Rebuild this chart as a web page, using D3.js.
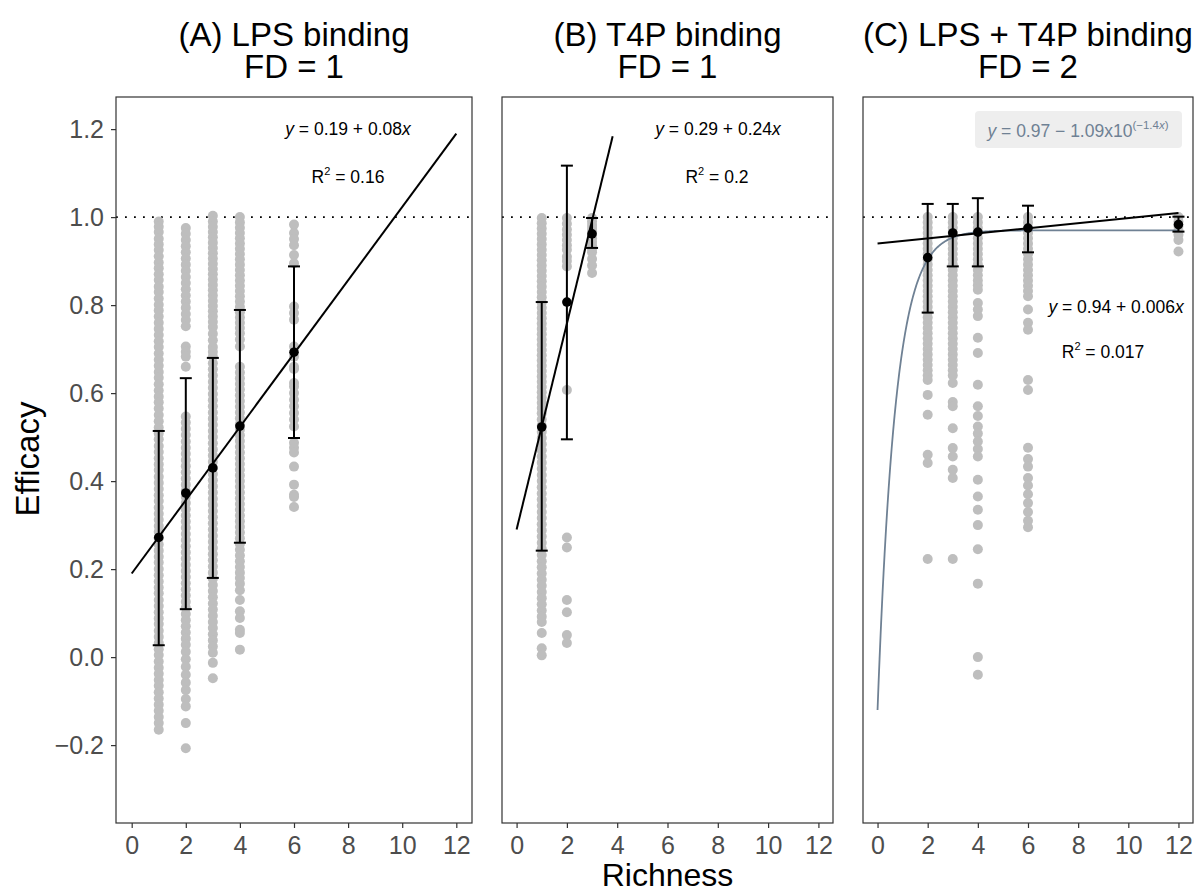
<!DOCTYPE html>
<html>
<head>
<meta charset="utf-8">
<script src="https://cdn.jsdelivr.net/npm/d3@7"></script>
<style>
body { margin: 0; background: #fff; }
text { font-family: "Liberation Sans", Arial, Helvetica, sans-serif; }
</style>
</head>
<body>
<div id="chart"></div>
<script>
var width = 1195;
var height = 893;

// ---- data ----
var titles = ["(A) LPS binding", "(B) T4P binding", "(C) LPS + T4P binding"];
var fdLabels = ["FD = 1", "FD = 1", "FD = 2"];
var xTicks = [0, 2, 4, 6, 8, 10, 12];
var yTicks = [-0.2, 0, 0.2, 0.4, 0.6, 0.8, 1.0, 1.2];

// raw efficacy values per richness level
var lpsPoints = [
  [1, [0.99,0.978,0.966,0.951,0.938,0.925,0.911,0.897,0.884,0.87,0.857,0.842,0.83,0.815,0.801,0.788,0.774,0.76,0.746,0.732,0.718,0.705,0.69,0.676,0.662,0.648,0.635,0.62,0.606,0.592,0.579,0.565,0.55,0.536,0.522,0.508,0.495,0.48,0.466,0.452,0.438,0.425,0.41,0.396,0.382,0.368,0.355,0.34,0.326,0.312,0.298,0.285,0.27,0.256,0.242,0.228,0.215,0.2,0.186,0.172,0.158,0.145,0.13,0.116,0.102,0.088,0.075,0.06,0.046,0.032,0.018,0.005,-0.01,-0.024,-0.038,-0.052,-0.065,-0.08,-0.094,-0.108,-0.122,-0.136,-0.15,-0.165]],
  [2, [0.975,0.962,0.948,0.934,0.92,0.906,0.892,0.878,0.864,0.85,0.836,0.822,0.808,0.794,0.78,0.766,0.752,0.706,0.694,0.683,0.66,0.547,0.533,0.519,0.505,0.49,0.476,0.462,0.448,0.434,0.42,0.406,0.392,0.378,0.364,0.35,0.336,0.322,0.308,0.294,0.28,0.266,0.252,0.238,0.224,0.21,0.196,0.182,0.168,0.154,0.14,0.126,0.112,0.098,0.084,0.07,0.056,0.042,0.028,0.012,-0.005,-0.022,-0.04,-0.058,-0.075,-0.095,-0.112,-0.15,-0.207]],
  [3, [1.003,0.99,0.978,0.966,0.954,0.942,0.93,0.918,0.906,0.894,0.882,0.87,0.858,0.846,0.834,0.822,0.81,0.798,0.786,0.774,0.762,0.75,0.735,0.72,0.705,0.694,0.683,0.668,0.654,0.64,0.626,0.612,0.598,0.584,0.57,0.556,0.542,0.528,0.514,0.5,0.486,0.472,0.458,0.444,0.43,0.416,0.402,0.388,0.374,0.36,0.346,0.332,0.318,0.304,0.29,0.276,0.262,0.248,0.234,0.22,0.206,0.192,0.178,0.164,0.15,0.136,0.122,0.108,0.094,0.08,0.066,0.052,0.038,0.024,0.01,-0.013,-0.048]],
  [4, [1.0,0.988,0.976,0.964,0.952,0.94,0.928,0.916,0.904,0.892,0.88,0.868,0.856,0.844,0.832,0.82,0.808,0.796,0.784,0.772,0.76,0.748,0.736,0.722,0.706,0.66,0.647,0.634,0.621,0.608,0.595,0.582,0.569,0.556,0.543,0.53,0.517,0.504,0.491,0.478,0.465,0.452,0.439,0.426,0.413,0.4,0.387,0.374,0.361,0.348,0.335,0.322,0.309,0.296,0.283,0.27,0.257,0.244,0.231,0.218,0.205,0.192,0.18,0.167,0.152,0.13,0.104,0.089,0.062,0.055,0.017]],
  [6, [0.983,0.964,0.95,0.936,0.914,0.895,0.797,0.782,0.767,0.706,0.683,0.66,0.655,0.623,0.615,0.6,0.585,0.57,0.555,0.54,0.524,0.487,0.476,0.465,0.433,0.392,0.369,0.364,0.341]]
];
var t4pPoints = [
  [1, [0.998,0.986,0.974,0.962,0.95,0.938,0.926,0.914,0.902,0.89,0.878,0.866,0.854,0.842,0.83,0.818,0.806,0.794,0.782,0.77,0.758,0.746,0.734,0.722,0.71,0.698,0.686,0.674,0.662,0.65,0.638,0.626,0.614,0.602,0.59,0.578,0.566,0.554,0.54,0.526,0.512,0.498,0.484,0.47,0.456,0.442,0.428,0.414,0.4,0.386,0.372,0.358,0.344,0.33,0.316,0.302,0.288,0.274,0.26,0.246,0.232,0.218,0.204,0.19,0.176,0.162,0.148,0.134,0.12,0.106,0.092,0.08,0.055,0.02,0.004]],
  [2, [0.998,0.985,0.972,0.96,0.948,0.936,0.926,0.91,0.9,0.888,0.607,0.272,0.249,0.13,0.102,0.05,0.032]],
  [3, [0.998,0.99,0.982,0.975,0.968,0.96,0.952,0.944,0.936,0.928,0.92,0.905,0.89,0.873]]
];
var bothPoints = [
  [2, [1.0,0.988,0.976,0.964,0.952,0.94,0.928,0.916,0.904,0.892,0.88,0.868,0.856,0.844,0.832,0.82,0.808,0.796,0.784,0.772,0.76,0.748,0.736,0.724,0.712,0.7,0.688,0.676,0.664,0.652,0.64,0.63,0.596,0.551,0.46,0.441,0.223]],
  [3, [1.0,0.988,0.976,0.964,0.952,0.94,0.928,0.916,0.904,0.892,0.88,0.868,0.856,0.844,0.832,0.82,0.808,0.796,0.784,0.772,0.76,0.748,0.736,0.724,0.712,0.7,0.688,0.676,0.664,0.652,0.64,0.623,0.58,0.57,0.52,0.475,0.456,0.426,0.407,0.223]],
  [4, [1.0,0.988,0.976,0.964,0.952,0.94,0.928,0.916,0.904,0.892,0.88,0.868,0.856,0.845,0.835,0.805,0.79,0.775,0.726,0.691,0.619,0.57,0.548,0.524,0.508,0.49,0.473,0.456,0.403,0.365,0.335,0.3,0.245,0.167,0.0,-0.04]],
  [6, [1.0,0.988,0.976,0.964,0.952,0.94,0.928,0.916,0.904,0.892,0.88,0.868,0.856,0.844,0.832,0.82,0.79,0.76,0.744,0.63,0.607,0.476,0.45,0.433,0.407,0.39,0.37,0.35,0.33,0.31,0.295]],
  [12, [1.0,0.99,0.98,0.97,0.96,0.948,0.922]]
];

// mean, lower, upper per richness level
var lpsSummary = [[1, 0.272, 0.027, 0.514], [2, 0.373, 0.109, 0.634], [3, 0.43, 0.18, 0.68], [4, 0.525, 0.26, 0.789], [6, 0.693, 0.498, 0.888]];
var t4pSummary = [[1, 0.523, 0.242, 0.807], [2, 0.807, 0.495, 1.117], [3, 0.962, 0.93, 0.998]];
var bothSummary = [[2, 0.908, 0.783, 1.03], [3, 0.964, 0.888, 1.03], [4, 0.966, 0.888, 1.043], [6, 0.975, 0.92, 1.026], [12, 0.983, 0.967, 1.001]];

// linear fits: intercept, slope, x from, x to
var lpsLine = [0.19, 0.0833, 0, 12];
var t4pLine = [0.29, 0.234, 0, 3.82];
var bothLine = [0.94, 0.0058, 0, 12];
// saturating fit: y = a - b * exp(-c x)
var bothCurve = [0.97, 1.09, 1.4];

var lpsEq = ["0.19 + 0.08", "0.16"];
var t4pEq = ["0.29 + 0.24", "0.2"];
var bothEq = ["0.94 + 0.006", "0.017"];

// ---- layout ----
var plotTop = 97, plotBottom = 823;
var panels = [
  {left: 116, right: 472, points: lpsPoints, summary: lpsSummary, line: lpsLine, eq: lpsEq, eqX: 348, eqY: 135, r2X: 348, r2Y: 183},
  {left: 502, right: 833, points: t4pPoints, summary: t4pSummary, line: t4pLine, eq: t4pEq, eqX: 718, eqY: 135, r2X: 717, r2Y: 183},
  {left: 863, right: 1193, points: bothPoints, summary: bothSummary, line: bothLine, eq: bothEq, eqX: 1116, eqY: 313, r2X: 1103, r2Y: 358, curve: bothCurve}
];

var svg = d3.select("#chart").append("svg").attr("width", width).attr("height", height);

var y = d3.scaleLinear().domain([-0.377, 1.273]).range([plotBottom, plotTop]);
var lineGen = d3.line().x(d => d[0]).y(d => d[1]);

panels.forEach(function(p, i) {
  var x = d3.scaleLinear().domain([-0.58, 12.58]).range([p.left, p.right]);
  var g = svg.append("g").attr("class", "panel_" + i);
  var cx = (p.left + p.right) / 2;

  // titles
  g.append("text").attr("x", cx).attr("y", 46).attr("text-anchor", "middle")
    .style("font-size", "33px").attr("fill", "#000").text(titles[i]);
  g.append("text").attr("x", cx).attr("y", 78).attr("text-anchor", "middle")
    .style("font-size", "33px").attr("fill", "#000").text(fdLabels[i]);

  // reference line at 1
  g.append("line")
    .attr("x1", p.left).attr("x2", p.right)
    .attr("y1", y(1)).attr("y2", y(1))
    .attr("stroke", "#000").attr("stroke-width", 1.8)
    .attr("stroke-dasharray", "1.8,7.2");

  // raw points
  p.points.forEach(function(col) {
    g.selectAll(null).data(col[1]).enter().append("circle")
      .attr("cx", x(col[0])).attr("cy", d => y(d))
      .attr("r", 5).attr("fill", "#bebebe");
  });

  // saturating curve
  if (p.curve) {
    var c = p.curve;
    var xs = d3.range(0, 12.001, 0.02);
    g.append("path")
      .attr("d", lineGen(xs.map(v => [x(v), y(c[0] - c[1] * Math.exp(-c[2] * v))])))
      .attr("fill", "none").attr("stroke", "#6f8194").attr("stroke-width", 1.8);
  }

  // error bars
  p.summary.forEach(function(s) {
    var bx = x(s[0]);
    g.append("line").attr("x1", bx).attr("x2", bx).attr("y1", y(s[2])).attr("y2", y(s[3]))
      .attr("stroke", "#000").attr("stroke-width", 2);
    [s[2], s[3]].forEach(function(v) {
      g.append("line").attr("x1", bx - 6).attr("x2", bx + 6).attr("y1", y(v)).attr("y2", y(v))
        .attr("stroke", "#000").attr("stroke-width", 2);
    });
  });

  // linear fit
  var L = p.line;
  g.append("path")
    .attr("d", lineGen([[x(L[2]), y(L[0] + L[1] * L[2])], [x(L[3]), y(L[0] + L[1] * L[3])]]))
    .attr("fill", "none").attr("stroke", "#000").attr("stroke-width", 2);

  // means
  g.selectAll(null).data(p.summary).enter().append("circle")
    .attr("cx", d => x(d[0])).attr("cy", d => y(d[1]))
    .attr("r", 4.8).attr("fill", "#000");

  // equation labels
  var eq = g.append("text").attr("x", p.eqX).attr("y", p.eqY).attr("text-anchor", "middle")
    .style("font-size", "17.5px").attr("fill", "#000");
  eq.append("tspan").style("font-style", "italic").text("y");
  eq.append("tspan").text(" = " + p.eq[0]);
  eq.append("tspan").style("font-style", "italic").text("x");

  var r2 = g.append("text").attr("x", p.r2X).attr("y", p.r2Y).attr("text-anchor", "middle")
    .style("font-size", "17.5px").attr("fill", "#000");
  r2.append("tspan").text("R");
  r2.append("tspan").attr("dy", -8).style("font-size", "11px").text("2");
  r2.append("tspan").attr("dy", 8).text(" = " + p.eq[1]);

  if (p.curve) {
    g.append("rect").attr("x", 975).attr("y", 111).attr("width", 207).attr("height", 37)
      .attr("rx", 4).attr("fill", "#eeeeee");
    var ce = g.append("text").attr("x", 1078).attr("y", 137).attr("text-anchor", "middle")
      .style("font-size", "17.5px").attr("fill", "#6f8194");
    ce.append("tspan").style("font-style", "italic").text("y");
    ce.append("tspan").text(" = 0.97 \u2212 1.09x10");
    ce.append("tspan").attr("dy", -8).style("font-size", "11.5px").text("(\u22121.4");
    ce.append("tspan").style("font-size", "11.5px").style("font-style", "italic").text("x");
    ce.append("tspan").style("font-size", "11.5px").text(")");
  }

  // panel border
  g.append("rect").attr("x", p.left).attr("y", plotTop)
    .attr("width", p.right - p.left).attr("height", plotBottom - plotTop)
    .attr("fill", "none").attr("stroke", "#333").attr("stroke-width", 1.2);

  // x axis
  var xa = g.append("g").attr("transform", `translate(0,${plotBottom})`)
    .call(d3.axisBottom(x).tickValues(xTicks).tickSize(5).tickPadding(8));
  xa.select(".domain").remove();
  xa.selectAll("line").attr("stroke", "#333").attr("stroke-width", 1.2);
  xa.selectAll("text").attr("fill", "#4d4d4d").style("font-size", "25px")
    .style("font-family", "'Liberation Sans', Arial, sans-serif");

  if (i == 0) {
    var ya = g.append("g").attr("transform", `translate(${p.left},0)`)
      .call(d3.axisLeft(y).tickValues(yTicks).tickSize(5).tickPadding(7).tickFormat(d3.format(".1f")));
    ya.select(".domain").remove();
    ya.selectAll("line").attr("stroke", "#333").attr("stroke-width", 1.2);
    ya.selectAll("text").attr("fill", "#4d4d4d").style("font-size", "25px")
      .style("font-family", "'Liberation Sans', Arial, sans-serif");
  }
});

// axis titles
svg.append("text").attr("transform", "translate(39,459) rotate(-90)")
  .attr("text-anchor", "middle").style("font-size", "33px").attr("fill", "#000").text("Efficacy");
svg.append("text").attr("x", 667.5).attr("y", 886)
  .attr("text-anchor", "middle").style("font-size", "32px").attr("fill", "#000").text("Richness");
</script>
</body>
</html>
